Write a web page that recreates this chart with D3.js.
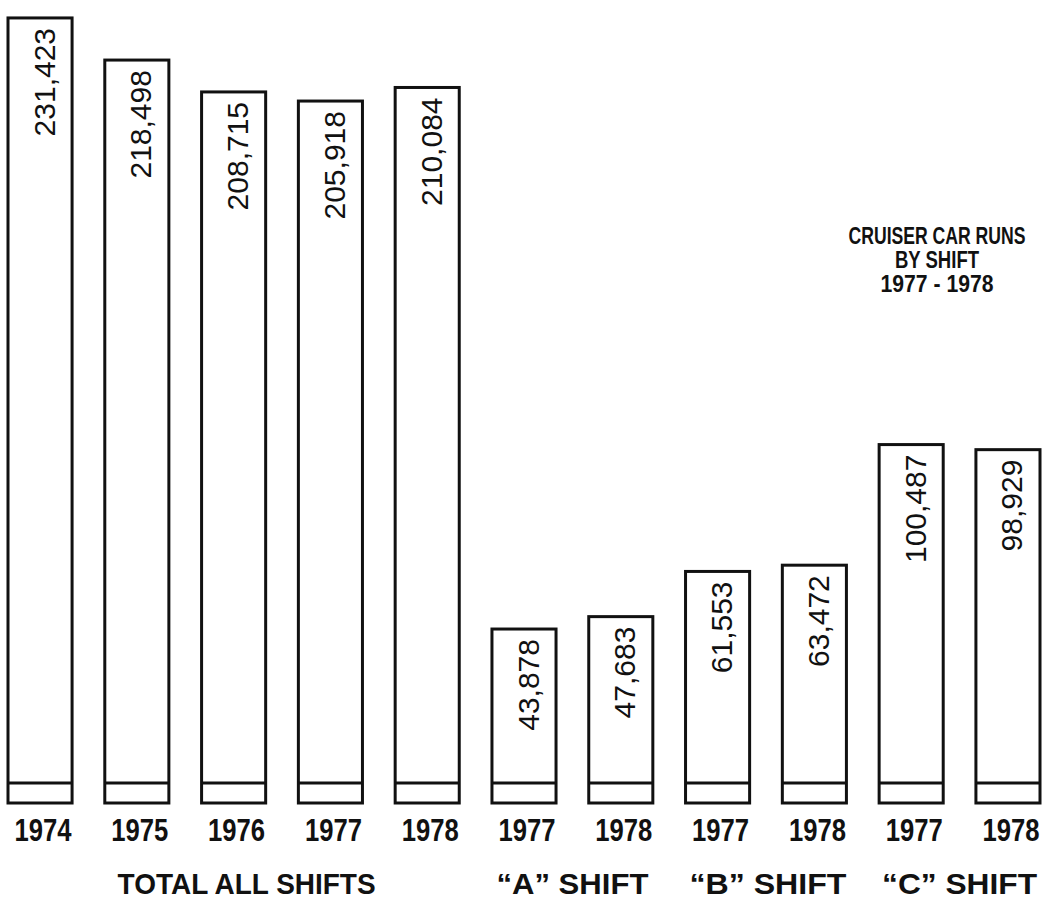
<!DOCTYPE html>
<html>
<head>
<meta charset="utf-8">
<script src="https://cdn.jsdelivr.net/npm/d3@7"></script>
<style>
  html, body { margin: 0; padding: 0; background: #fff; }
  svg { display: block; }
</style>
</head>
<body>
<svg id="chart" width="1047" height="909"></svg>
<script>
// ---- data ----
const categories = ["1974", "1975", "1976", "1977", "1978", "1977", "1978", "1977", "1978", "1977", "1978"];
const values = [231423, 218498, 208715, 205918, 210084, 43878, 47683, 61553, 63472, 100487, 98929];
const valueLabels = ["231,423", "218,498", "208,715", "205,918", "210,084", "43,878", "47,683", "61,553", "63,472", "100,487", "98,929"];
const groupOf = [0, 0, 0, 0, 0, 1, 1, 2, 2, 3, 3];
const groupLabels = ["TOTAL  ALL SHIFTS", "\u201CA\u201D SHIFT", "\u201CB\u201D SHIFT", "\u201CC\u201D SHIFT"];
const titleLines = ["CRUISER CAR RUNS", "BY SHIFT", "1977 -  1978"];

// ---- layout ----
const svg = d3.select("#chart");
const idx = d3.range(categories.length);

const x = d3.scaleBand().domain(idx).range([8, 1040]).paddingInner(0.338).paddingOuter(0);
const y = d3.scaleLinear().domain([0, 240000]).range([772, -10]);
const bw = x.bandwidth();
const baseBottom = y(0) + 31;
const innerLine = y(0) + 11;

const font = "'Liberation Sans', Arial, Helvetica, sans-serif";

// bars
const bars = svg.append("g");
bars.selectAll("rect")
  .data(idx)
  .join("rect")
  .attr("x", i => x(i))
  .attr("y", i => y(values[i]))
  .attr("width", bw)
  .attr("height", i => baseBottom - y(values[i]))
  .attr("fill", "none")
  .attr("stroke", "#111")
  .attr("stroke-width", 3);

bars.selectAll("line")
  .data(idx)
  .join("line")
  .attr("x1", i => x(i))
  .attr("x2", i => x(i) + bw)
  .attr("y1", innerLine)
  .attr("y2", innerLine)
  .attr("stroke", "#111")
  .attr("stroke-width", 3);

// value labels (rotated)
svg.append("g").selectAll("text")
  .data(idx)
  .join("text")
  .attr("transform", i => `translate(${x(i) + bw / 2 + 4},${y(values[i]) + 10}) rotate(-90)`)
  .attr("text-anchor", "end")
  .attr("dominant-baseline", "central")
  .style("font-family", font)
  .style("font-size", "30px")
  .attr("fill", "#111")
  .text(i => valueLabels[i]);

// year axis
const axis = d3.axisBottom(x).tickSize(0).tickPadding(0).tickFormat(i => categories[i]);
const ag = svg.append("g").attr("transform", `translate(3,${baseBottom})`).call(axis);
ag.select(".domain").remove();
ag.selectAll("text")
  .attr("y", 38)
  .attr("dy", 0)
  .attr("textLength", 57)
  .attr("lengthAdjust", "spacingAndGlyphs")
  .style("font-family", font)
  .style("font-weight", "bold")
  .style("font-size", "32px")
  .attr("fill", "#111");

// group labels
const groupIdx = d3.range(groupLabels.length);
const groupWidths = [258, 152, 157, 155];
const groupOffset = [13, 0, 2, 0];
svg.append("g").selectAll("text")
  .data(groupIdx)
  .join("text")
  .attr("x", g => {
    const members = idx.filter(i => groupOf[i] === g);
    return (x(members[0]) + x(members[members.length - 1]) + bw) / 2 + groupOffset[g];
  })
  .attr("y", baseBottom + 91)
  .attr("text-anchor", "middle")
  .attr("textLength", g => groupWidths[g])
  .attr("lengthAdjust", "spacingAndGlyphs")
  .style("font-family", font)
  .style("font-weight", "bold")
  .style("font-size", "30px")
  .attr("fill", "#111")
  .text(g => groupLabels[g]);

// title
const titleWidths = [177, 84, 113];
svg.append("g").selectAll("text")
  .data(titleLines)
  .join("text")
  .attr("x", 937)
  .attr("y", (d, i) => 244 + i * 24)
  .attr("text-anchor", "middle")
  .attr("textLength", (d, i) => titleWidths[i])
  .attr("lengthAdjust", "spacingAndGlyphs")
  .style("font-family", font)
  .style("font-weight", "bold")
  .style("font-size", "24px")
  .attr("fill", "#111")
  .text(d => d);
</script>
</body>
</html>
